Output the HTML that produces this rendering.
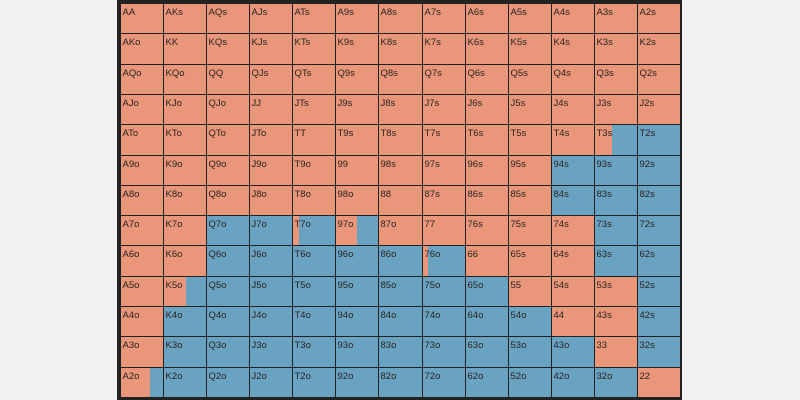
<!DOCTYPE html>
<html><head><meta charset="utf-8"><style>
html,body{margin:0;padding:0;background:#f1f1f1;width:800px;height:400px;overflow:hidden}
#wrap{position:absolute;left:117px;top:0;width:565px;height:400px;background:#222}
.cell{position:absolute;overflow:hidden;background:#6aa3c2}
.cell .or{position:absolute;left:0;top:0;bottom:0;background:#e9967a}
.cell .lb{position:absolute;left:2px;top:3px;font:9.5px "Liberation Sans",sans-serif;color:#2a2420}
</style></head><body>
<div id="wrap"></div>
<script>
const ranks=["A","K","Q","J","T","9","8","7","6","5","4","3","2"];
// orange (raise) fraction per cell, row by row
const freqRows=[
[1,1,1,1,1,1,1,1,1,1,1,1,1],
[1,1,1,1,1,1,1,1,1,1,1,1,1],
[1,1,1,1,1,1,1,1,1,1,1,1,1],
[1,1,1,1,1,1,1,1,1,1,1,1,1],
[1,1,1,1,1,1,1,1,1,1,1,0.42,0],
[1,1,1,1,1,1,1,1,1,1,0,0,0],
[1,1,1,1,1,1,1,1,1,1,0,0,0],
[1,1,0,0,0.16,0.5,1,1,1,1,1,0,0],
[1,1,0,0,0,0,0,0.12,1,1,1,0,0],
[1,0.53,0,0,0,0,0,0,0,1,1,1,0],
[1,0,0,0,0,0,0,0,0,0,1,1,0],
[1,0,0,0,0,0,0,0,0,0,0,1,0],
[0.7,0,0,0,0,0,0,0,0,0,0,0,1]
];
const wrap=document.getElementById('wrap');
const x0=3,y0=3,cw=560/13,ch=394/13;
for(let r=0;r<13;r++){for(let c=0;c<13;c++){
  let name=r===c?ranks[r]+ranks[c]:(c>r?ranks[r]+ranks[c]+"s":ranks[c]+ranks[r]+"o");
  const d=document.createElement('div');
  d.className='cell';
  
  
  const L=x0+Math.round(c*cw),T=y0+Math.round(r*ch);
  const R=x0+Math.round((c+1)*cw),B=y0+Math.round((r+1)*ch);
  d.style.left=(L+0.5)+'px';d.style.top=(T+0.5)+'px';
  d.style.width=(R-L-1)+'px';d.style.height=(B-T-1)+'px';
  const o=document.createElement('div');o.className='or';
  
  
  o.style.width=(freqRows[r][c]*100)+'%';
  d.appendChild(o);
  const t=document.createElement('span');t.className='lb';t.textContent=name;
  
  
  d.appendChild(t);
  wrap.appendChild(d);
}}
</script>
</body></html>
